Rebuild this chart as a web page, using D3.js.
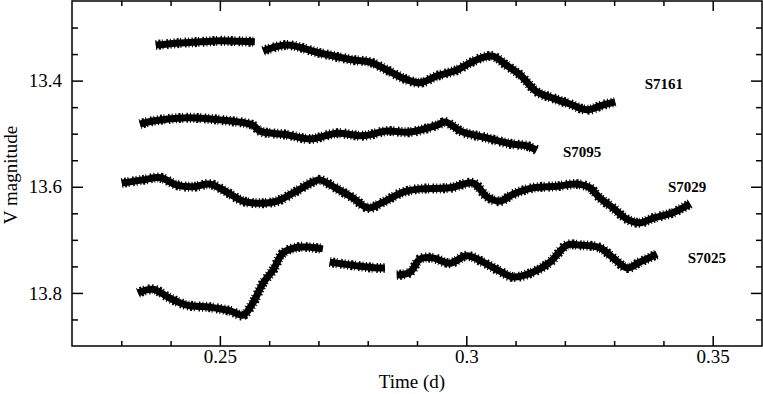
<!DOCTYPE html>
<html>
<head>
<meta charset="utf-8">
<script src="https://cdn.jsdelivr.net/npm/d3@7"></script>
<style>
  body { margin: 0; background: #fff; }
  text { font-family: "Liberation Serif", "DejaVu Serif", serif; }
</style>
</head>
<body>
<div id="chart"></div>
<script>
// Light curves (time in days, V magnitude); null marks a gap in the run
const s7161Time = [0.2370, 0.2419, 0.2460, 0.2500, 0.2541, 0.2571, null,
    0.2588, 0.2636, 0.2703, 0.2770, 0.2805, 0.2839, 0.2876, 0.2906, 0.2941, 0.2981, 0.3007,
    0.3034, 0.3054, 0.3083, 0.3109, 0.3143, 0.3176, 0.3210, 0.3245, 0.3277, 0.3302];
const s7161Mag = [13.333, 13.329, 13.327, 13.325, 13.326, 13.327, null,
    13.344, 13.333, 13.348, 13.361, 13.365, 13.380, 13.397, 13.404, 13.391, 13.380, 13.367,
    13.356, 13.354, 13.372, 13.389, 13.421, 13.433, 13.444, 13.455, 13.446, 13.440];

const s7095Time = [0.2338, 0.2364, 0.2433, 0.2500, 0.2567, 0.2581, 0.2636, 0.2683, 0.2738, 0.2790,
    0.2839, 0.2886, 0.2941, 0.2957, 0.2993, 0.3042, 0.3089, 0.3123, 0.3143];
const s7095Mag = [13.482, 13.476, 13.470, 13.474, 13.484, 13.495, 13.502, 13.510, 13.499, 13.504,
    13.495, 13.497, 13.484, 13.478, 13.497, 13.508, 13.519, 13.523, 13.531];

const s7029Time = [0.2301, 0.2344, 0.2379, 0.2413, 0.2446, 0.2480, 0.2514, 0.2547, 0.2581, 0.2616,
    0.2648, 0.2689, 0.2703, 0.2738, 0.2770, 0.2801, 0.2831, 0.2872, 0.2906, 0.2967, 0.3014,
    0.3042, 0.3068, 0.3095, 0.3135, 0.3184, 0.3225, 0.3251, 0.3271, 0.3298, 0.3326, 0.3352,
    0.3379, 0.3419, 0.3454];
const s7029Mag = [13.593, 13.587, 13.583, 13.597, 13.600, 13.595, 13.610, 13.627, 13.631, 13.627,
    13.612, 13.591, 13.587, 13.604, 13.621, 13.640, 13.629, 13.610, 13.604, 13.602, 13.593,
    13.619, 13.627, 13.614, 13.602, 13.599, 13.595, 13.602, 13.621, 13.640, 13.661, 13.668,
    13.659, 13.649, 13.632];

const s7025Time = [0.2334, 0.2364, 0.2399, 0.2433, 0.2480, 0.2521, 0.2547, 0.2567, 0.2588, 0.2608,
    0.2628, 0.2657, 0.2683, 0.2709, null,
    0.2723, 0.2778, 0.2819, 0.2835, null,
    0.2859, 0.2886, 0.2906, 0.2932, 0.2967, 0.3001, 0.3034, 0.3068, 0.3095, 0.3135, 0.3170,
    0.3204, 0.3231, 0.3271, 0.3298, 0.3326, 0.3352, 0.3387];
const s7025Mag = [13.800, 13.793, 13.810, 13.823, 13.827, 13.834, 13.842, 13.819, 13.781, 13.757,
    13.725, 13.714, 13.714, 13.717, null,
    13.742, 13.749, 13.753, 13.753, null,
    13.766, 13.761, 13.736, 13.734, 13.744, 13.730, 13.742, 13.759, 13.770, 13.761, 13.742,
    13.710, 13.710, 13.715, 13.734, 13.753, 13.742, 13.727];

const starNames = ["S7161", "S7095", "S7029", "S7025"];
const labelTime = [0.3401, 0.3235, 0.3448, 0.3488];
const labelMag = [13.406, 13.534, 13.600, 13.734];

const xMajorTicks = [0.25, 0.30, 0.35];
const xMinorTicks = [0.23, 0.24, 0.26, 0.27, 0.28, 0.29, 0.31, 0.32, 0.33, 0.34];
const yMajorTicks = [13.4, 13.6, 13.8];
const yMinorTicks = [13.3, 13.35, 13.45, 13.5, 13.55, 13.65, 13.7, 13.75, 13.85];

// Dimensions
const margin = {top: 1, right: 1, bottom: 48, left: 72},
      width = 763 - margin.left - margin.right,
      height = 394 - margin.top - margin.bottom;

const svg = d3.select("#chart")
    .append("svg")
    .attr("width", width + margin.left + margin.right)
    .attr("height", height + margin.top + margin.bottom)
    .append("g")
    .attr("transform", `translate(${margin.left},${margin.top})`);

const x = d3.scaleLinear().domain([0.22, 0.36]).range([0, width]);
const y = d3.scaleLinear().domain([13.25, 13.9]).range([0, height]);

// Axes: ticks point inward on all four sides
const fmtX = d => d3.format("")(+d.toFixed(2));
const axes = [
    {make: () => d3.axisBottom(x), pos: `translate(0,${height})`, label: true, horiz: true},
    {make: () => d3.axisTop(x), pos: "translate(0,0)", label: false, horiz: true},
    {make: () => d3.axisLeft(y), pos: "translate(0,0)", label: true, horiz: false},
    {make: () => d3.axisRight(y), pos: `translate(${width},0)`, label: false, horiz: false}
];

axes.forEach(a => {
    const major = a.make()
        .tickValues(a.horiz ? xMajorTicks : yMajorTicks)
        .tickSizeInner(a.horiz ? -10 : -11)
        .tickSizeOuter(0)
        .tickPadding(a.horiz ? 3 : 10)
        .tickFormat(a.label ? (a.horiz ? fmtX : d3.format(".1f")) : "");
    const minor = a.make()
        .tickValues(a.horiz ? xMinorTicks : yMinorTicks)
        .tickSizeInner(a.horiz ? -5 : -6)
        .tickSizeOuter(0)
        .tickFormat("");

    [major, minor].forEach(ax => {
        const g = svg.append("g").attr("transform", a.pos).call(ax);
        g.select(".domain").remove();
        g.selectAll("line").attr("stroke", "#000").attr("stroke-width", 1.5);
        g.selectAll("text")
            .attr("fill", "#000")
            .style("font-size", "19px");
    });
});

// Frame
svg.append("rect")
    .attr("x", 0).attr("y", 0)
    .attr("width", width).attr("height", height)
    .attr("fill", "none")
    .attr("stroke", "#000")
    .attr("stroke-width", 1.5);

// Axis titles
svg.append("text")
    .attr("x", 340)
    .attr("y", height + 42)
    .attr("text-anchor", "middle")
    .style("font-size", "19px")
    .text("Time (d)");

svg.append("text")
    .attr("transform", "rotate(-90)")
    .attr("x", -174)
    .attr("y", -55)
    .attr("text-anchor", "middle")
    .style("font-size", "19px")
    .text("V magnitude");

// Light curves drawn as thick bands, with a ragged edge to suggest the scatter of points
const line = d3.line()
    .defined(d => d[0] !== null)
    .x(d => x(d[0]))
    .y(d => y(d[1]))
    .curve(d3.curveCatmullRom);

const series = [
    [s7161Time, s7161Mag],
    [s7095Time, s7095Mag],
    [s7029Time, s7029Mag],
    [s7025Time, s7025Mag]
];

series.forEach(([t, m]) => {
    const pts = t.map((d, i) => [d, m[i]]);
    svg.append("path")
        .datum(pts)
        .attr("fill", "none")
        .attr("stroke", "#000")
        .attr("stroke-width", 10)
        .attr("stroke-dasharray", "1 2 2 1.5 1 3.5 1.5 2 1 2.5")
        .attr("d", line);
    svg.append("path")
        .datum(pts)
        .attr("fill", "none")
        .attr("stroke", "#000")
        .attr("stroke-width", 7)
        .attr("stroke-linejoin", "round")
        .attr("d", line);
});

// Star labels
starNames.forEach((name, i) => {
    svg.append("text")
        .attr("x", x(labelTime[i]))
        .attr("y", y(labelMag[i]))
        .attr("dy", "0.35em")
        .attr("text-anchor", "middle")
        .style("font-size", "15px")
        .style("font-weight", "bold")
        .text(name);
});
</script>
</body>
</html>
